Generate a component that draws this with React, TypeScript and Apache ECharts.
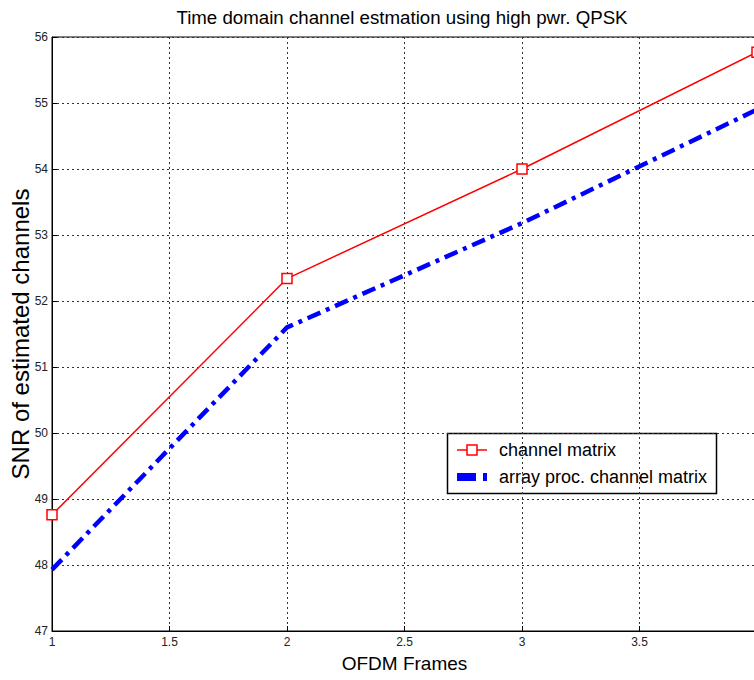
import React, { useEffect, useRef } from "react";
import * as echarts from "echarts";

const frames = [1, 2, 3, 4];
const channelMatrix = [48.76, 52.34, 54.0, 55.77];
const arrayProcChannelMatrix = [47.93, 51.6, 53.18, 54.9];
const seriesNames = ["channel matrix", "array proc. channel matrix"];
const titleText = "Time domain channel estmation using high pwr. QPSK";
const xName = "OFDM Frames";
const yName = "SNR of estimated channels";

export default function App() {
  const ref = useRef<HTMLDivElement>(null);
  useEffect(() => {
    const chart = echarts.init(ref.current!, null, { renderer: "svg" });
    const font = "Liberation Sans, Arial, sans-serif";
    const red = "#ff0000";
    const blue = "#0000ff";
    chart.setOption({
      animation: false,
      backgroundColor: "#fff",
      title: {
        text: titleText,
        left: 397,
        textAlign: "center",
        top: 3,
        textStyle: { fontFamily: font, fontSize: 18.7, fontWeight: "normal", color: "#000" },
      },
      grid: {
        left: 52,
        top: 37,
        width: 705,
        height: 594,
        show: true,
        borderColor: "#000",
        borderWidth: 1,
        backgroundColor: "#fff",
        outerBoundsMode: "none",
        containLabel: false,
      },
      xAxis: {
        type: "value",
        min: 1,
        max: 4,
        interval: 0.5,
        name: xName,
        nameLocation: "middle",
        nameGap: 23,
        nameMoveOverlap: false,
        nameTextStyle: { fontFamily: font, fontSize: 19, color: "#000" },
        axisLine: { show: true, lineStyle: { color: "#000", width: 1 } },
        axisTick: { show: true, inside: true, length: 5, lineStyle: { color: "#000" } },
        axisLabel: {
          fontFamily: font,
          fontSize: 12,
          color: "#222",
          margin: 5,
          formatter: (v: number) => (v === 4 ? "" : String(v)),
        },
        splitLine: { show: true, lineStyle: { color: "#333", type: [2, 3], width: 1 } },
      },
      yAxis: {
        type: "value",
        min: 47,
        max: 56,
        interval: 1,
        name: yName,
        nameLocation: "middle",
        nameGap: 20,
        nameMoveOverlap: false,
        nameTextStyle: { fontFamily: font, fontSize: 24, color: "#000" },
        axisLine: { show: true, lineStyle: { color: "#000", width: 1 } },
        axisTick: { show: true, inside: true, length: 5, lineStyle: { color: "#000" } },
        axisLabel: { fontFamily: font, fontSize: 12, color: "#222", margin: 4 },
        splitLine: { show: true, lineStyle: { color: "#333", type: [2, 3], width: 1 } },
      },
      graphic: [
        {
          type: "group",
          z: 100,
          children: [
            {
              type: "rect",
              shape: { x: 447.5, y: 433.5, width: 269, height: 60 },
              style: { fill: "#fff", stroke: "#000", lineWidth: 1.5 },
            },
            {
              type: "line",
              shape: { x1: 457, y1: 450, x2: 487, y2: 450 },
              style: { stroke: red, lineWidth: 1.5 },
            },
            {
              type: "rect",
              shape: { x: 467, y: 445, width: 10, height: 10 },
              style: { fill: "#fff", stroke: red, lineWidth: 1.5 },
            },
            {
              type: "text",
              x: 499,
              y: 450,
              style: {
                text: seriesNames[0],
                fontFamily: font,
                fontSize: 18,
                fill: "#000",
                verticalAlign: "middle",
              },
            },
            {
              type: "rect",
              shape: { x: 457, y: 473, width: 19, height: 8 },
              style: { fill: blue },
            },
            {
              type: "rect",
              shape: { x: 483, y: 473, width: 4, height: 8 },
              style: { fill: blue },
            },
            {
              type: "text",
              x: 499,
              y: 477,
              style: {
                text: seriesNames[1],
                fontFamily: font,
                fontSize: 18,
                fill: "#000",
                verticalAlign: "middle",
              },
            },
          ],
        },
      ],
      series: [
        {
          name: seriesNames[0],
          type: "line",
          data: frames.map((f, i) => [f, channelMatrix[i]]),
          color: red,
          lineStyle: { color: red, width: 1.5 },
          symbol: "rect",
          symbolSize: 10,
          showAllSymbol: true,
          itemStyle: { color: "#fff", borderColor: red, borderWidth: 1.5 },
        },
        {
          name: seriesNames[1],
          type: "line",
          data: frames.map((f, i) => [f, arrayProcChannelMatrix[i]]),
          color: blue,
          lineStyle: { color: blue, width: 4.5, type: [14, 6, 4, 6] },
          symbol: "none",
          itemStyle: { color: blue },
        },
      ],
    });
    return () => chart.dispose();
  }, []);
  return <div ref={ref} style={{ width: 754, height: 680, position: "absolute", left: 0, top: 0 }} />;
}
